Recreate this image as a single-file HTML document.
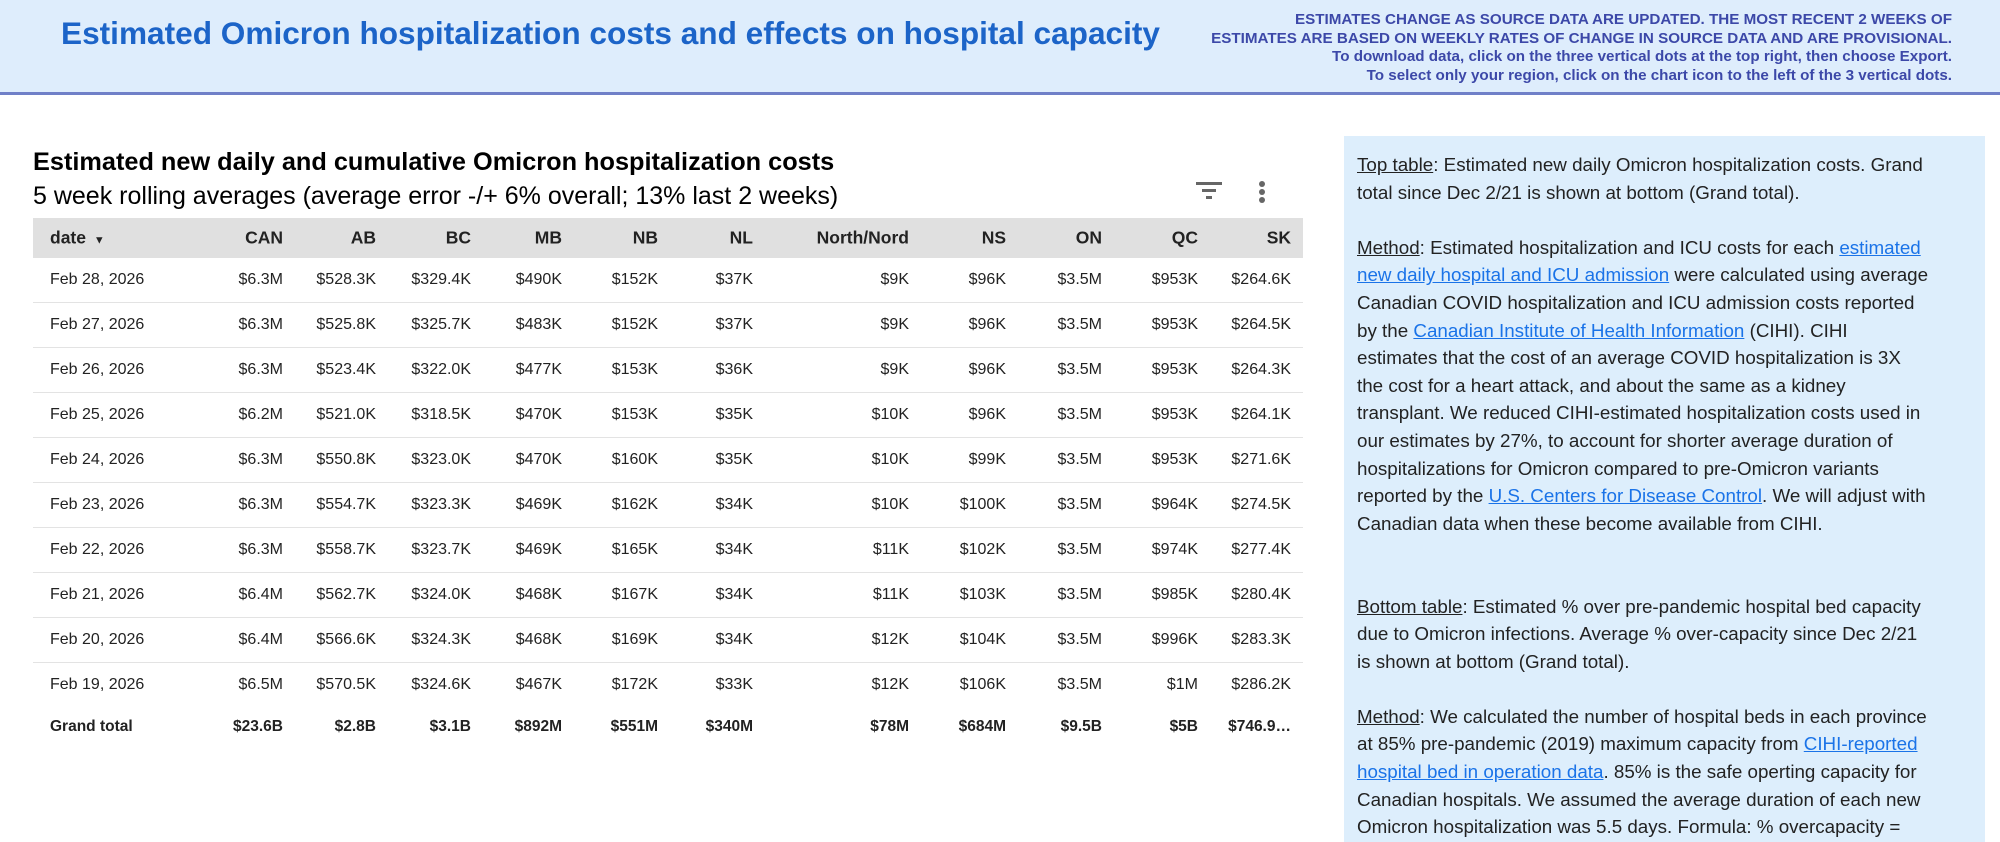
<!DOCTYPE html>
<html><head><meta charset="utf-8"><style>
body{margin:0;width:2000px;height:842px;overflow:hidden;background:#fff;font-family:"Liberation Sans",sans-serif;position:relative}
#hdr{position:absolute;left:0;top:0;width:2000px;height:92px;background:#deedfc;border-bottom:3px solid #7080c8}
#ttl{position:absolute;left:61px;top:15px;font-size:31.6px;font-weight:bold;color:#1c64c8;white-space:nowrap}
#notes{position:absolute;right:48px;top:11px;text-align:right;font-size:15.2px;font-weight:bold;color:#3c48a8;line-height:18.5px;white-space:nowrap}
#tt{position:absolute;left:33px;top:148px;font-size:25.3px;font-weight:bold;white-space:nowrap}
#st{position:absolute;left:33px;top:182px;font-size:25px;white-space:nowrap}
#tbl{position:absolute;left:33px;top:218px;width:1270px}
.row{position:relative;height:44px;border-bottom:1.5px solid #e3e3e3;font-size:16px;color:#222}
.hrow{height:40px;background:#e0e0e0;font-weight:bold;font-size:17.5px;border:none}
.last{border-bottom:none}
.c{position:absolute;top:50%;transform:translateY(-50%);white-space:nowrap}
.tot{font-weight:bold;border:none;height:40px;font-size:15.5px}
#panel{position:absolute;left:1344px;top:136px;width:641px;height:706px;background:#ddeefc}
#ptxt{position:absolute;left:13px;top:15px;font-size:18.8px;line-height:27.6px;color:#222;white-space:nowrap}
u{text-decoration:underline}
a{color:#1a73e8;text-decoration:underline}
</style></head><body>
<div id="hdr">
<div id="ttl">Estimated Omicron hospitalization costs and effects on hospital capacity</div>
<div id="notes">ESTIMATES CHANGE AS SOURCE DATA ARE UPDATED. THE MOST RECENT 2 WEEKS OF<br>ESTIMATES ARE BASED ON WEEKLY RATES OF CHANGE IN SOURCE DATA AND ARE PROVISIONAL.<br>To download data, click on the three vertical dots at the top right, then choose Export.<br>To select only your region, click on the chart icon to the left of the 3 vertical dots.</div>
</div>
<div id="tt">Estimated new daily and cumulative Omicron hospitalization costs</div>
<div id="st">5 week rolling averages (average error -/+ 6% overall; 13% last 2 weeks)</div>
<svg style="position:absolute;left:1194px;top:180px" width="30" height="22"><rect x="2" y="2" width="26" height="3" fill="#666"/><rect x="8" y="9" width="14" height="3" fill="#666"/><rect x="12" y="16" width="6" height="3" fill="#666"/></svg>
<svg style="position:absolute;left:1255px;top:180px" width="14" height="26"><circle cx="7" cy="4" r="3" fill="#666"/><circle cx="7" cy="12" r="3" fill="#666"/><circle cx="7" cy="20" r="3" fill="#666"/></svg>
<div id="tbl"></div>
<div id="panel"><div id="ptxt">
<u>Top table</u>: Estimated new daily Omicron hospitalization costs. Grand<br>
total since Dec 2/21 is shown at bottom (Grand total).<br><br>
<u>Method</u>: Estimated hospitalization and ICU costs for each <a>estimated</a><br>
<a>new daily hospital and ICU admission</a> were calculated using average<br>
Canadian COVID hospitalization and ICU admission costs reported<br>
by the <a>Canadian Institute of Health Information</a> (CIHI). CIHI<br>
estimates that the cost of an average COVID hospitalization is 3X<br>
the cost for a heart attack, and about the same as a kidney<br>
transplant. We reduced CIHI-estimated hospitalization costs used in<br>
our estimates by 27%, to account for shorter average duration of<br>
hospitalizations for Omicron compared to pre-Omicron variants<br>
reported by the <a>U.S. Centers for Disease Control</a>. We will adjust with<br>
Canadian data when these become available from CIHI.<br><br><br>
<u>Bottom table</u>: Estimated % over pre-pandemic hospital bed capacity<br>
due to Omicron infections. Average % over-capacity since Dec 2/21<br>
is shown at bottom (Grand total).<br><br>
<u>Method</u>: We calculated the number of hospital beds in each province<br>
at 85% pre-pandemic (2019) maximum capacity from <a>CIHI-reported</a><br>
<a>hospital bed in operation data</a>. 85% is the safe operting capacity for<br>
Canadian hospitals. We assumed the average duration of each new<br>
Omicron hospitalization was 5.5 days. Formula: % overcapacity =
</div></div>
<script>
const columns=["CAN","AB","BC","MB","NB","NL","North/Nord","NS","ON","QC","SK"];
const dates=["Feb 28, 2026","Feb 27, 2026","Feb 26, 2026","Feb 25, 2026","Feb 24, 2026","Feb 23, 2026","Feb 22, 2026","Feb 21, 2026","Feb 20, 2026","Feb 19, 2026"];
const CAN=["$6.3M","$6.3M","$6.3M","$6.2M","$6.3M","$6.3M","$6.3M","$6.4M","$6.4M","$6.5M"];
const AB=["$528.3K","$525.8K","$523.4K","$521.0K","$550.8K","$554.7K","$558.7K","$562.7K","$566.6K","$570.5K"];
const BC=["$329.4K","$325.7K","$322.0K","$318.5K","$323.0K","$323.3K","$323.7K","$324.0K","$324.3K","$324.6K"];
const MB=["$490K","$483K","$477K","$470K","$470K","$469K","$469K","$468K","$468K","$467K"];
const NB=["$152K","$152K","$153K","$153K","$160K","$162K","$165K","$167K","$169K","$172K"];
const NL=["$37K","$37K","$36K","$35K","$35K","$34K","$34K","$34K","$34K","$33K"];
const NORTH=["$9K","$9K","$9K","$10K","$10K","$10K","$11K","$11K","$12K","$12K"];
const NS=["$96K","$96K","$96K","$96K","$99K","$100K","$102K","$103K","$104K","$106K"];
const ON=["$3.5M","$3.5M","$3.5M","$3.5M","$3.5M","$3.5M","$3.5M","$3.5M","$3.5M","$3.5M"];
const QC=["$953K","$953K","$953K","$953K","$953K","$964K","$974K","$985K","$996K","$1M"];
const SK=["$264.6K","$264.5K","$264.3K","$264.1K","$271.6K","$274.5K","$277.4K","$280.4K","$283.3K","$286.2K"];
const totals=["$23.6B","$2.8B","$3.1B","$892M","$551M","$340M","$78M","$684M","$9.5B","$5B","$746.9…"];
const series=[CAN,AB,BC,MB,NB,NL,NORTH,NS,ON,QC,SK];
const rightEdges=[250,343,438,529,625,720,876,973,1069,1165,1258];
const tbl=document.getElementById('tbl');
function mkRow(cls,first,vals,name){
  const r=document.createElement('div');r.className='row '+cls;
  
  
  const d=document.createElement('div');d.className='c';d.style.left='17px';d.innerHTML=first;
  
  
  r.appendChild(d);
  vals.forEach((v,i)=>{const c=document.createElement('div');c.className='c';c.style.right=(1270-rightEdges[i])+'px';c.textContent=v;
  
  
  r.appendChild(c);});
  tbl.appendChild(r);
}
mkRow('hrow','date <span style="font-size:11px">&nbsp;&#9660;</span>',columns,'header-row');
dates.forEach((dt,j)=>mkRow(j===dates.length-1?'last':'',dt,series.map(s=>s[j]),'data-row'));
mkRow('tot','Grand total',totals,'grand-total-row');
</script>
</body></html>
